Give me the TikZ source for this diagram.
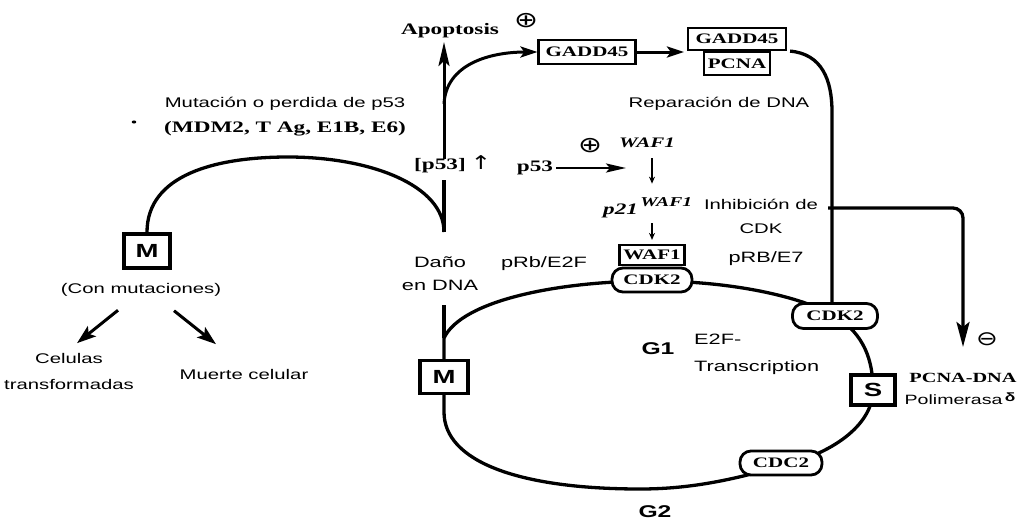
\documentclass[tikz,border=0pt]{standalone}
\usepackage{fontspec}
\setmainfont{Liberation Serif}[FakeStretch=1.45]
\setsansfont{Liberation Sans}[FakeStretch=1.45]
\newfontfamily\symfont{DejaVu Sans}[FakeStretch=1.3]
\usetikzlibrary{arrows.meta,calc,shapes.geometric}

\begin{document}
\begin{tikzpicture}[x=1pt,y=-1pt,
  line/.style={line width=3.3pt},
  bigarrow/.style={line width=3pt,-{Stealth[length=17pt,width=11pt,inset=4pt]}},
  thinarrow/.style={line width=1.3pt,-{Stealth[length=7pt,width=6pt]}},
  sans/.style={font=\fontsize{14}{24}\selectfont\sffamily, align=center, inner sep=0pt},
  sansl/.style={font=\fontsize{15}{23}\selectfont\sffamily, align=center, inner sep=0pt},
  serifb/.style={font=\fontsize{16}{18}\selectfont\bfseries, inner sep=0pt},
  genebox/.style={draw, line width=2.2pt, fill=white, font=\fontsize{14.5}{16}\selectfont\bfseries,
    inner sep=2pt, minimum height=22pt},
  pill/.style={draw, line width=2.8pt, fill=white, rounded corners=11pt,
    font=\fontsize{14.5}{16}\selectfont\bfseries, minimum width=80pt, minimum height=24pt, inner sep=1pt},
  phasebox/.style={draw, line width=3.6pt, fill=white, font=\fontsize{19}{21}\selectfont\sffamily\bfseries,
    minimum width=48pt, minimum height=33pt, inner sep=0pt},
  phase/.style={font=\fontsize{17}{19}\selectfont\sffamily\bfseries, inner sep=0pt},
  sign/.style={font=\fontsize{22}{24}\selectfont\symfont, inner sep=0pt},
]
\useasboundingbox (0,0) rectangle (1027,525);

% ---------- p53 response, top ----------
\node[serifb] (apop) at (450,31) {Apoptosis};
\node[sign] (plus1) at (526,21) {⊕};
\node[genebox, minimum width=97pt, minimum height=24pt] (gadd) at (587,52) {GADD45};
\node[genebox, minimum width=98pt] (gaddc) at (737,39) {GADD45};
\node[genebox, minimum width=66pt, minimum height=23pt, anchor=north] (pcna) at (gaddc.south) {PCNA};
\node[sans] (repar) at (719,104) {Reparación de DNA};

\node[sans] (mut) at (285,104) {Mutación o perdida de p53};
\node[serifb] (mdm) at (285,129) {(MDM2, T Ag, E1B, E6)};
\node[ellipse, fill, inner xsep=1.6pt, inner ysep=1.1pt] (dot) at (134,122) {};

\node[serifb] (p53up) at (440,166) {[p53]};
\node[sign, font=\fontsize{19}{21}\selectfont\symfont] (uparr) at (481,163) {↑};
\node[serifb] (p53) at (535,168) {p53};
\node[sign] (plus2) at (590,146) {⊕};
\node[font=\fontsize{14.5}{16}\selectfont\bfseries\itshape, inner sep=0pt] (wafgene) at (647,143) {WAF1};
\node[font=\fontsize{16}{18}\selectfont\bfseries\itshape, inner sep=0pt, anchor=west] (p21) at (603,208)
  {p21\raisebox{8pt}{\fontsize{13.5}{15}\selectfont\,WAF1}};
\node[genebox, minimum width=65pt, minimum height=20pt, inner sep=1.5pt] (wafbox) at (652,255) {WAF1};

\node[sans] (inh) at (761,216) {Inhibición de\\CDK};
\node[sansl] (prb2) at (544,264) {pRb/E2F};
\node[sansl] (prb7) at (766,259) {pRB/E7};

% ---------- left branch ----------
\node[phasebox, minimum width=46pt, minimum height=34pt] (Mleft) at (147,251) {M};
\node[sans] (conmut) at (141,290) {(Con mutaciones)};
\node[sans, font=\fontsize{14}{26}\selectfont\sffamily] (celulas) at (69,371) {Celulas\\transformadas};
\node[sans] (muerte) at (244,374) {Muerte celular};

% ---------- damage line ----------
\coordinate (vtop) at (444,42);
\coordinate (vsplit) at (444,104);
\coordinate (vbase) at (444,180);
\coordinate (jn) at (444,232);
\node[sansl] (dano) at (440,274) {Daño\\en DNA};

% ---------- cell cycle ----------
\coordinate (cycstart) at (444,338);
\draw[line] (cycstart) .. controls (462,300) and (560,281) .. (652,281)
  .. controls (730,281) and (800,296) .. (835,316)
  .. controls (864,334) and (873,360) .. (873,390)
  .. controls (873,422) and (838,452) .. (781,466)
  .. controls (732,480) and (690,489) .. (640,489)
  .. controls (520,489) and (444,462) .. (444,412) -- cycle;
\draw[line] (444,305) -- (cycstart);

\node[pill] (cdk2a) at (652,280) {CDK2};
\node[pill, minimum width=85pt, minimum height=25pt] (cdk2b) at (835,316) {CDK2};
\node[phasebox, minimum width=44pt, minimum height=30pt] (S) at (873,390) {S};
\node[pill, minimum width=82pt] (cdc2) at (781,463) {CDC2};
\node[phasebox] (Mcyc) at (444,377) {M};
\node[phase] (G1) at (658,349) {G1};
\node[phase] (G2) at (655,512) {G2};
\node[sansl, font=\fontsize{15}{27}\selectfont\sffamily, align=left, anchor=west] (e2f) at (694,354)
  {E2F-\\Transcription};

% ---------- right side ----------
\node[sign, font=\fontsize{20}{22}\selectfont\symfont] (minus) at (987,339) {⊖};
\node[font=\fontsize{14}{16}\selectfont\bfseries, inner sep=0pt] (pcnadna) at (963,378) {PCNA-DNA};
\node[font=\fontsize{13.5}{15}\selectfont\sffamily, inner sep=0pt] (polim) at (960,399)
  {Polimerasa\,\raisebox{3pt}{\fontsize{12}{13}\selectfont\bfseries δ}};
\coordinate (inhstart) at (828,208);
\coordinate (inhtip) at (963,347);

% ---------- connectors ----------
% damage signal: arc from the mutated M phase, [p53] rise, apoptosis
\draw[line] (Mleft.north) .. controls (147,175) and (215,157) .. (288,157)
  .. controls (370,157) and (444,185) .. (jn);
\draw[line] (vbase) -- (jn);
\draw[bigarrow, -{Stealth[length=24pt,width=11pt,inset=5pt]}] (p53up.north -| vtop) -- (vtop);
\draw[bigarrow] (vsplit) .. controls (446,64) and (490,52) .. (gadd.west);
\draw[bigarrow, shorten >=3pt] (gadd.east) -- (gadd.east -| gaddc.west);

% repair complex feeding the S-phase CDK2
\draw[line] ([xshift=3pt]gaddc.south east) .. controls (822,54) and (832,80) .. (832,112)
  -- (cdk2b.north -| 832,0);

% p53 -> WAF1 -> p21 -> WAF1/CDK2
\draw[line width=2.4pt, -{Stealth[length=20pt,width=9pt,inset=4pt]}] ([xshift=3pt]p53.east) -- (626,168) coordinate (p53tip);
\draw[thinarrow] ([yshift=-10pt]wafgene.south -| wafbox.north) -- ([yshift=14pt]wafbox.north |- p21.north);
\draw[thinarrow] ([yshift=-5pt]wafbox.north |- p21.south) -- ([yshift=4pt]wafbox.north);

% inhibition of PCNA-DNA polymerase
\draw[line, rounded corners=10pt, -{Stealth[length=25pt,width=13pt,inset=5pt]}] (inhstart) -- (inhtip |- inhstart) -- (inhtip);

% outcomes of the mutated cell
\draw[bigarrow, -{Stealth[length=19pt,width=13pt,inset=4pt]}] ([shift={(-23,13.5)}]conmut.south) -- ([shift={(8,-9.5)}]celulas.north);
\draw[bigarrow, -{Stealth[length=19pt,width=13pt,inset=4pt]}] ([shift={(33,14)}]conmut.south) -- ([shift={(-28,-24.5)}]muerte.north);
\end{tikzpicture}
\end{document}
